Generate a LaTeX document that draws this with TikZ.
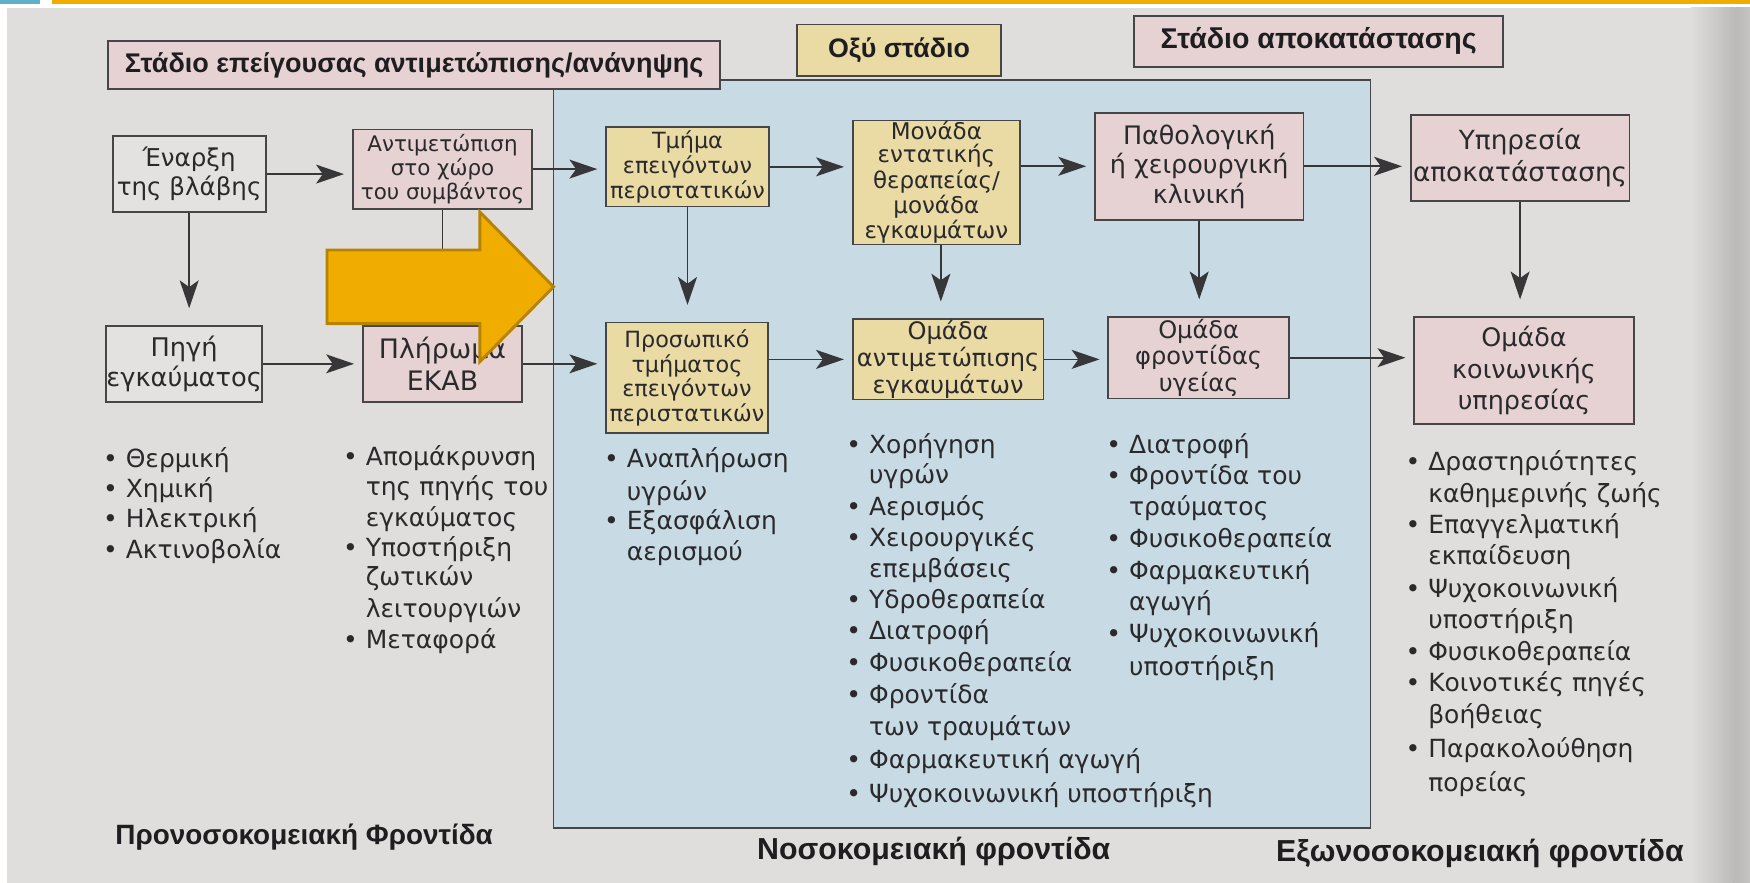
\documentclass[tikz,border=0pt]{standalone}
\usepackage{fontspec}
\setmainfont{DejaVu Sans}
\newfontfamily\hdfont{Liberation Sans}
\usetikzlibrary{arrows.meta}
\definecolor{bgc}{RGB}{224,222,220}
\definecolor{edgec}{RGB}{188,186,185}
\definecolor{pinkc}{RGB}{231,210,211}
\definecolor{yelc}{RGB}{234,218,163}
\definecolor{grayc}{RGB}{228,226,224}
\definecolor{bluec}{RGB}{200,218,228}
\definecolor{bordc}{RGB}{70,70,73}
\definecolor{linec}{RGB}{55,55,58}
\definecolor{txtc}{RGB}{42,42,45}
\definecolor{hdtxt}{RGB}{30,30,33}
\definecolor{arrowc}{RGB}{240,173,0}
\definecolor{arrowdk}{RGB}{182,132,0}
\definecolor{topblue}{RGB}{96,176,201}
\newcommand\myfs[2]{\fontsize{#1}{#2}\selectfont}
\begin{document}
\begin{tikzpicture}[x=0.5pt,y=-0.5pt,
  box/.style={draw=bordc, line width=0.8pt, align=center, inner sep=0pt, text=txtc},
  pinkbox/.style={box, fill=pinkc},
  yelbox/.style={box, fill=yelc},
  graybox/.style={box, fill=grayc},
  hdbox/.style={box, text=hdtxt, font=\hdfont\bfseries\myfs{12}{14}},
  arr/.style={draw=linec, line width=0.75pt, -{Stealth[length=12.5pt,width=8.5pt,inset=3pt]}, shorten >=3.5pt},
  varr/.style={arr, shorten >=7.5pt},
  li/.style={anchor=base west, inner sep=0pt, text=txtc, font=\myfs{11.2}{13}},
  foot/.style={anchor=west, inner sep=0pt, text=hdtxt}]
\useasboundingbox (0,0) rectangle (1568,791);
% page / photo background
\fill[white] (0,0) rectangle (1568,791);
\fill[bgc] (6,7) rectangle (1568,791);
\shade[left color=bgc, right color=edgec] (1515,7) rectangle (1555,791);
\shade[left color=edgec, right color=edgec!85!white] (1555,7) rectangle (1568,791);
\fill[topblue] (0,0) rectangle (36,4);
\fill[arrowc] (47,0) rectangle (1568,4);

% hospital region
\node[draw=bordc, line width=0.8pt, fill=bluec, inner sep=0pt, minimum width=366pt, minimum height=335pt] (hosp) at (862,407) {};

% headers
\node[hdbox, fill=pinkc, minimum width=274pt, minimum height=21.5pt, font=\hdfont\bfseries\myfs{12.1}{14}] (h1) at (371,58.5) {Στάδιο επείγουσας αντιμετώπισης/ανάνηψης};
\node[hdbox, fill=yelc, minimum width=91.5pt, minimum height=23pt] (h2) at (805.5,45) {Οξύ στάδιο};
\node[hdbox, fill=pinkc, minimum width=165.5pt, minimum height=23pt, font=\hdfont\bfseries\myfs{12.8}{14}] (h3) at (1181.5,37) {Στάδιο αποκατάστασης};

% row 1
\node[graybox, minimum width=68.5pt, minimum height=34pt, font=\myfs{11}{13}] (enarxi) at (169.5,156) {Έναρξη\\της βλάβης};
\node[pinkbox, minimum width=80.5pt, minimum height=35.5pt, font=\myfs{9.6}{10.8}] (antim) at (396.5,151.5) {Αντιμετώπιση\\στο χώρο\\του συμβάντος};
\node[yelbox, minimum width=73pt, minimum height=35.5pt, font=\myfs{10}{11}] (tmima) at (616,149.5) {Τμήμα\\επειγόντων\\περιστατικών};
\node[yelbox, minimum width=75pt, minimum height=55.5pt, font=\myfs{10.3}{10.3}] (monada) at (839,163.5) {Μονάδα\\εντατικής\\θεραπείας/\\μονάδα\\εγκαυμάτων};
\node[pinkbox, minimum width=93.5pt, minimum height=48pt, font=\myfs{11.4}{13.2}] (pathol) at (1074.5,149) {Παθολογική\\ή χειρουργική\\κλινική};
\node[pinkbox, minimum width=98pt, minimum height=38.5pt, font=\myfs{11.8}{14.5}] (ypires) at (1362,141.5) {Υπηρεσία\\αποκατάστασης};

% row 2
\node[graybox, minimum width=70pt, minimum height=34pt, font=\myfs{11.5}{13.5}] (pigi) at (165,326) {Πηγή\\εγκαύματος};
\node[pinkbox, minimum width=71.5pt, minimum height=34pt, font=\myfs{12}{14}] (plir) at (396.5,326) {Πλήρωμα\\ΕΚΑΒ};
\node[yelbox, minimum width=72.5pt, minimum height=49.5pt, font=\myfs{10}{11}] (prosop) at (615.5,338.5) {Προσωπικό\\τμήματος\\επειγόντων\\περιστατικών};
\node[yelbox, minimum width=85.5pt, minimum height=36pt, font=\myfs{10.8}{10.8}] (omada1) at (849.5,322) {Ομάδα\\αντιμετώπισης\\εγκαυμάτων};
\node[pinkbox, minimum width=81pt, minimum height=36.5pt, font=\myfs{10.8}{10.8}] (omada2) at (1074,320.5) {Ομάδα\\φροντίδας\\υγείας};
\node[pinkbox, minimum width=98.5pt, minimum height=48pt, font=\myfs{11.4}{14.2}] (omada3) at (1365.5,332) {Ομάδα\\κοινωνικής\\υπηρεσίας};

% horizontal connectors
\draw[arr] (enarxi.east) -- (enarxi.east -| antim.west);
\draw[arr] (antim.east) -- (antim.east -| tmima.west);
\draw[arr] (tmima.east) -- (tmima.east -| monada.west);
\draw[arr] (monada.east |- pathol.west) -- (pathol.west);
\draw[arr] (pathol.east) -- (pathol.east -| ypires.west);
\draw[arr] (pigi.east) -- (pigi.east -| plir.west);
\draw[arr] (plir.east) -- (plir.east -| prosop.west);
\draw[arr] (prosop.east |- omada1.west) -- (omada1.west);
\draw[arr] (omada1.east) -- (omada1.east -| omada2.west);
\draw[arr] (omada2.east) -- (omada2.east -| omada3.west);

% vertical connectors
\draw[varr] (enarxi.south) -- (enarxi.south |- pigi.north);
\draw[varr] (antim.south) -- (antim.south |- plir.north);
\draw[varr] (tmima.south) -- (tmima.south |- prosop.north);
\draw[varr] ([xshift=2pt]monada.south) -- ([xshift=2pt]monada.south |- omada1.north);
\draw[varr] (pathol.south) -- (pathol.south |- omada2.north);
\draw[varr] (ypires.south) -- (ypires.south |- omada3.north);

% lists
\foreach \t/\y [count=\i] in {• Θερμική/419, • Χημική/446, • Ηλεκτρική/473, • Ακτινοβολία/500}
  \node[li, name=la\i] at (92,\y) {\t};
\foreach \t/\y [count=\i] in {• Απομάκρυνση/417, \phantom{• }της πηγής του/444, \phantom{• }εγκαύματος/472, • Υποστήριξη/499, \phantom{• }ζωτικών/525, \phantom{• }λειτουργιών/553, • Μεταφορά/581}
  \node[li, name=lb\i] at (307,\y) {\t};
\foreach \t/\y [count=\i] in {• Αναπλήρωση/419, \phantom{• }υγρών/448, • Εξασφάλιση/474, \phantom{• }αερισμού/502}
  \node[li, name=lc\i] at (541,\y) {\t};
\foreach \t/\y [count=\i] in {• Χορήγηση/406, \phantom{• }υγρών/433, • Αερισμός/462, • Χειρουργικές/490, \phantom{• }επεμβάσεις/517, • Υδροθεραπεία/545, • Διατροφή/573, • Φυσικοθεραπεία/602, • Φροντίδα/630, \phantom{• }των τραυμάτων/659, • Φαρμακευτική αγωγή/689, • Ψυχοκοινωνική υποστήριξη/719}
  \node[li, name=ld\i] at (758,\y) {\t};
\foreach \t/\y [count=\i] in {• Διατροφή/406, • Φροντίδα του/434, \phantom{• }τραύματος/462, • Φυσικοθεραπεία/491, • Φαρμακευτική/519, \phantom{• }αγωγή/547, • Ψυχοκοινωνική/576, \phantom{• }υποστήριξη/605}
  \node[li, name=le\i] at (991,\y) {\t};
\foreach \t/\y [count=\i] in {• Δραστηριότητες/422, \phantom{• }καθημερινής ζωής/450, • Επαγγελματική/478, \phantom{• }εκπαίδευση/506, • Ψυχοκοινωνική/535, \phantom{• }υποστήριξη/563, • Φυσικοθεραπεία/592, • Κοινοτικές πηγές/620, \phantom{• }βοήθειας/648, • Παρακολούθηση/679, \phantom{• }πορείας/709}
  \node[li, name=lf\i] at (1259,\y) {\t};

% footers
\node[foot, font=\hdfont\bfseries\myfs{12.5}{15}] (f1) at (103,750) {Προνοσοκομειακή Φροντίδα};
\node[foot, font=\hdfont\bfseries\myfs{13.6}{15}] (f2) at (678,763) {Νοσοκομειακή φροντίδα};
\node[foot, font=\hdfont\bfseries\myfs{13.6}{15}] (f3) at (1143,765) {Εξωνοσοκομειακή φροντίδα};

% big orange arrow
\draw[fill=arrowc, draw=arrowdk, line width=1.3pt, line join=miter]
  (293,224) -- (430,224) -- (430,190) -- (496,257) -- (430,324) -- (430,290) -- (293,290) -- cycle;
\end{tikzpicture}
\end{document}
